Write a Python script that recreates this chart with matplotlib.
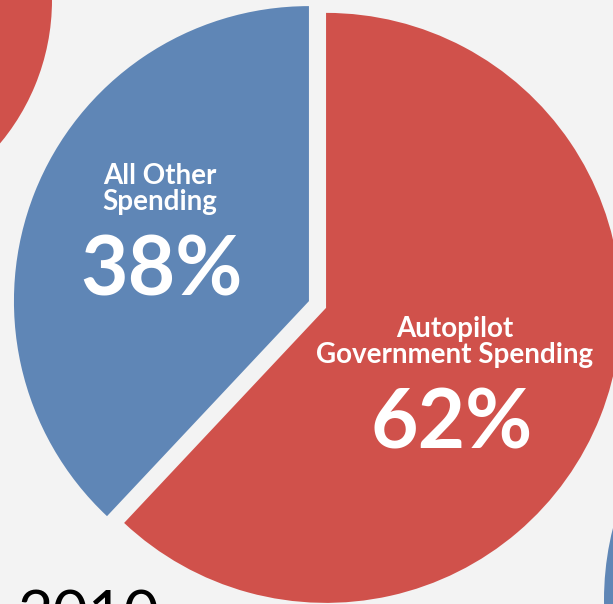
"""Autopilot spending pie, redrawn from the slide crop."""

import matplotlib

matplotlib.use("Agg")
import matplotlib.pyplot as plt

W, H = 613, 604

# data
labels = ["Autopilot\nGovernment Spending", "All Other\nSpending"]
shares = [62, 38]
year = "2010"

RED = "#d0514b"
BLUE = "#5f86b6"
BG = "#f3f3f3"

plt.rcParams["font.family"] = ["Lato", "DejaVu Sans"]

fig = plt.figure(figsize=(W / 100, H / 100), dpi=100, facecolor=BG)
ax = fig.add_axes([0, 0, 1, 1])
ax.set_facecolor(BG)


def img(x, y):
    # slide pixel coords (y down) -> data coords (y up)
    return x, H - y


# neighbouring pies cut by the crop
ax.pie([1], colors=[RED], radius=224, center=img(-172, 0),
       wedgeprops=dict(linewidth=0))
ax.pie([1], colors=[BLUE], radius=295, center=img(899, 600),
       wedgeprops=dict(linewidth=0))

# main pie
ax.pie(
    shares,
    colors=[RED, BLUE],
    startangle=90,
    counterclock=False,
    radius=295,
    center=img(317.5, 304.5),
    explode=[9.2, 9.2],
    wedgeprops=dict(linewidth=0),
)

# labels
label_pos = [img(455, 342), img(160, 189)]
pct_pos = [img(452, 425), img(161, 272)]
for lab, pct, lp, pp in zip(labels, shares, label_pos, pct_pos):
    ax.text(*lp, lab, ha="center", va="center", color="white",
            fontsize=20, fontweight="bold", linespacing=1.0)
    ax.text(*pp, f"{pct}%", ha="center", va="center", color="white",
            fontsize=59, fontweight="bold")

ax.text(*img(17, 589), year, ha="left", va="top", color="black", fontsize=44)

ax.set_xlim(0, W)
ax.set_ylim(0, H)
ax.set_aspect("equal")
ax.axis("off")

fig.savefig("out.png", dpi=100, facecolor=BG)
